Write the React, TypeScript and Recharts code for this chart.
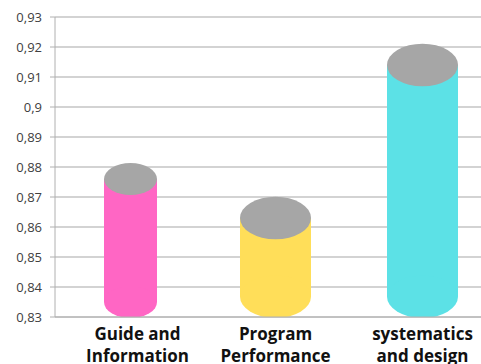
import { Bar, BarChart, CartesianGrid, Cell, XAxis, YAxis } from "recharts";

const categories = ["Guide and\nInformation", "Program\nPerformance", "systematics\nand design"];
const scores = [0.876, 0.863, 0.914];
const yTicks = [0.83, 0.84, 0.85, 0.86, 0.87, 0.88, 0.89, 0.9, 0.91, 0.92, 0.93];

const colors = ["#ff66c4", "#ffde59", "#5ce1e6"];
const capColor = "#a6a6a6";
const widths = [53, 71, 71];
const labelShift = [9, 0, 0];

const data = categories.map((c, i) => ({ name: c, value: scores[i] }));

function Cylinder(props: any) {
  const { x, y, width, height, index } = props;
  const w = widths[index] ?? width;
  const cx = x + width / 2 + (index === 0 ? 2 : 0);
  const rx = w / 2;
  const ry = rx * 0.6;
  const bottom = y + height + 1 - ry;
  const color = colors[index];
  return (
    <g>
      <rect x={cx - rx} y={y} width={w} height={Math.max(0, bottom - y)} fill={color} />
      <ellipse cx={cx} cy={bottom} rx={rx} ry={ry} fill={color} />
      <ellipse cx={cx} cy={y} rx={rx} ry={ry} fill={capColor} />
    </g>
  );
}

function CategoryTick(props: any) {
  const { x, y, payload, index } = props;
  const lines = String(payload.value).split("\n");
  return (
    <g transform={`translate(${x + (labelShift[index] ?? 0)},${y})`}>
      {lines.map((l, i) => (
        <text
          key={i}
          x={0}
          y={15 + i * 22}
          textAnchor="middle"
          fontFamily="'Open Sans', sans-serif"
          fontWeight={700}
          fontSize={17}
          fill="#111"
        >
          {l}
        </text>
      ))}
    </g>
  );
}

export default function App() {
  return (
    <div
      style={{
        position: "fixed",
        left: 0,
        top: 0,
        width: 481,
        height: 364,
        overflow: "hidden",
        background: "#fff",
      }}
    >
      <BarChart
        width={500}
        height={364}
        data={data}
        margin={{ top: 17, right: 4, bottom: 0, left: 0 }}
        barCategoryGap={0}
      >
        <CartesianGrid vertical={false} stroke="#c4c4c4" strokeWidth={1.5} />
        <XAxis
          dataKey="name"
          height={47}
          interval={0}
          stroke="#b0b0b0"
          tickLine={false}
          tick={<CategoryTick />}
        />
        <YAxis
          width={55}
          domain={[0.83, 0.93]}
          ticks={yTicks}
          allowDataOverflow
          stroke="#b0b0b0"
          tickSize={5}
          tickMargin={8}
          tickFormatter={(v: number) => String(v).replace(".", ",")}
          tick={{ fontFamily: "'Open Sans', sans-serif", fontSize: 13, fill: "#404040" }}
        />
        <Bar dataKey="value" barSize={71} shape={<Cylinder />} isAnimationActive={false}>
          {data.map((d, i) => (
            <Cell key={d.name} fill={colors[i]} />
          ))}
        </Bar>
      </BarChart>
    </div>
  );
}
